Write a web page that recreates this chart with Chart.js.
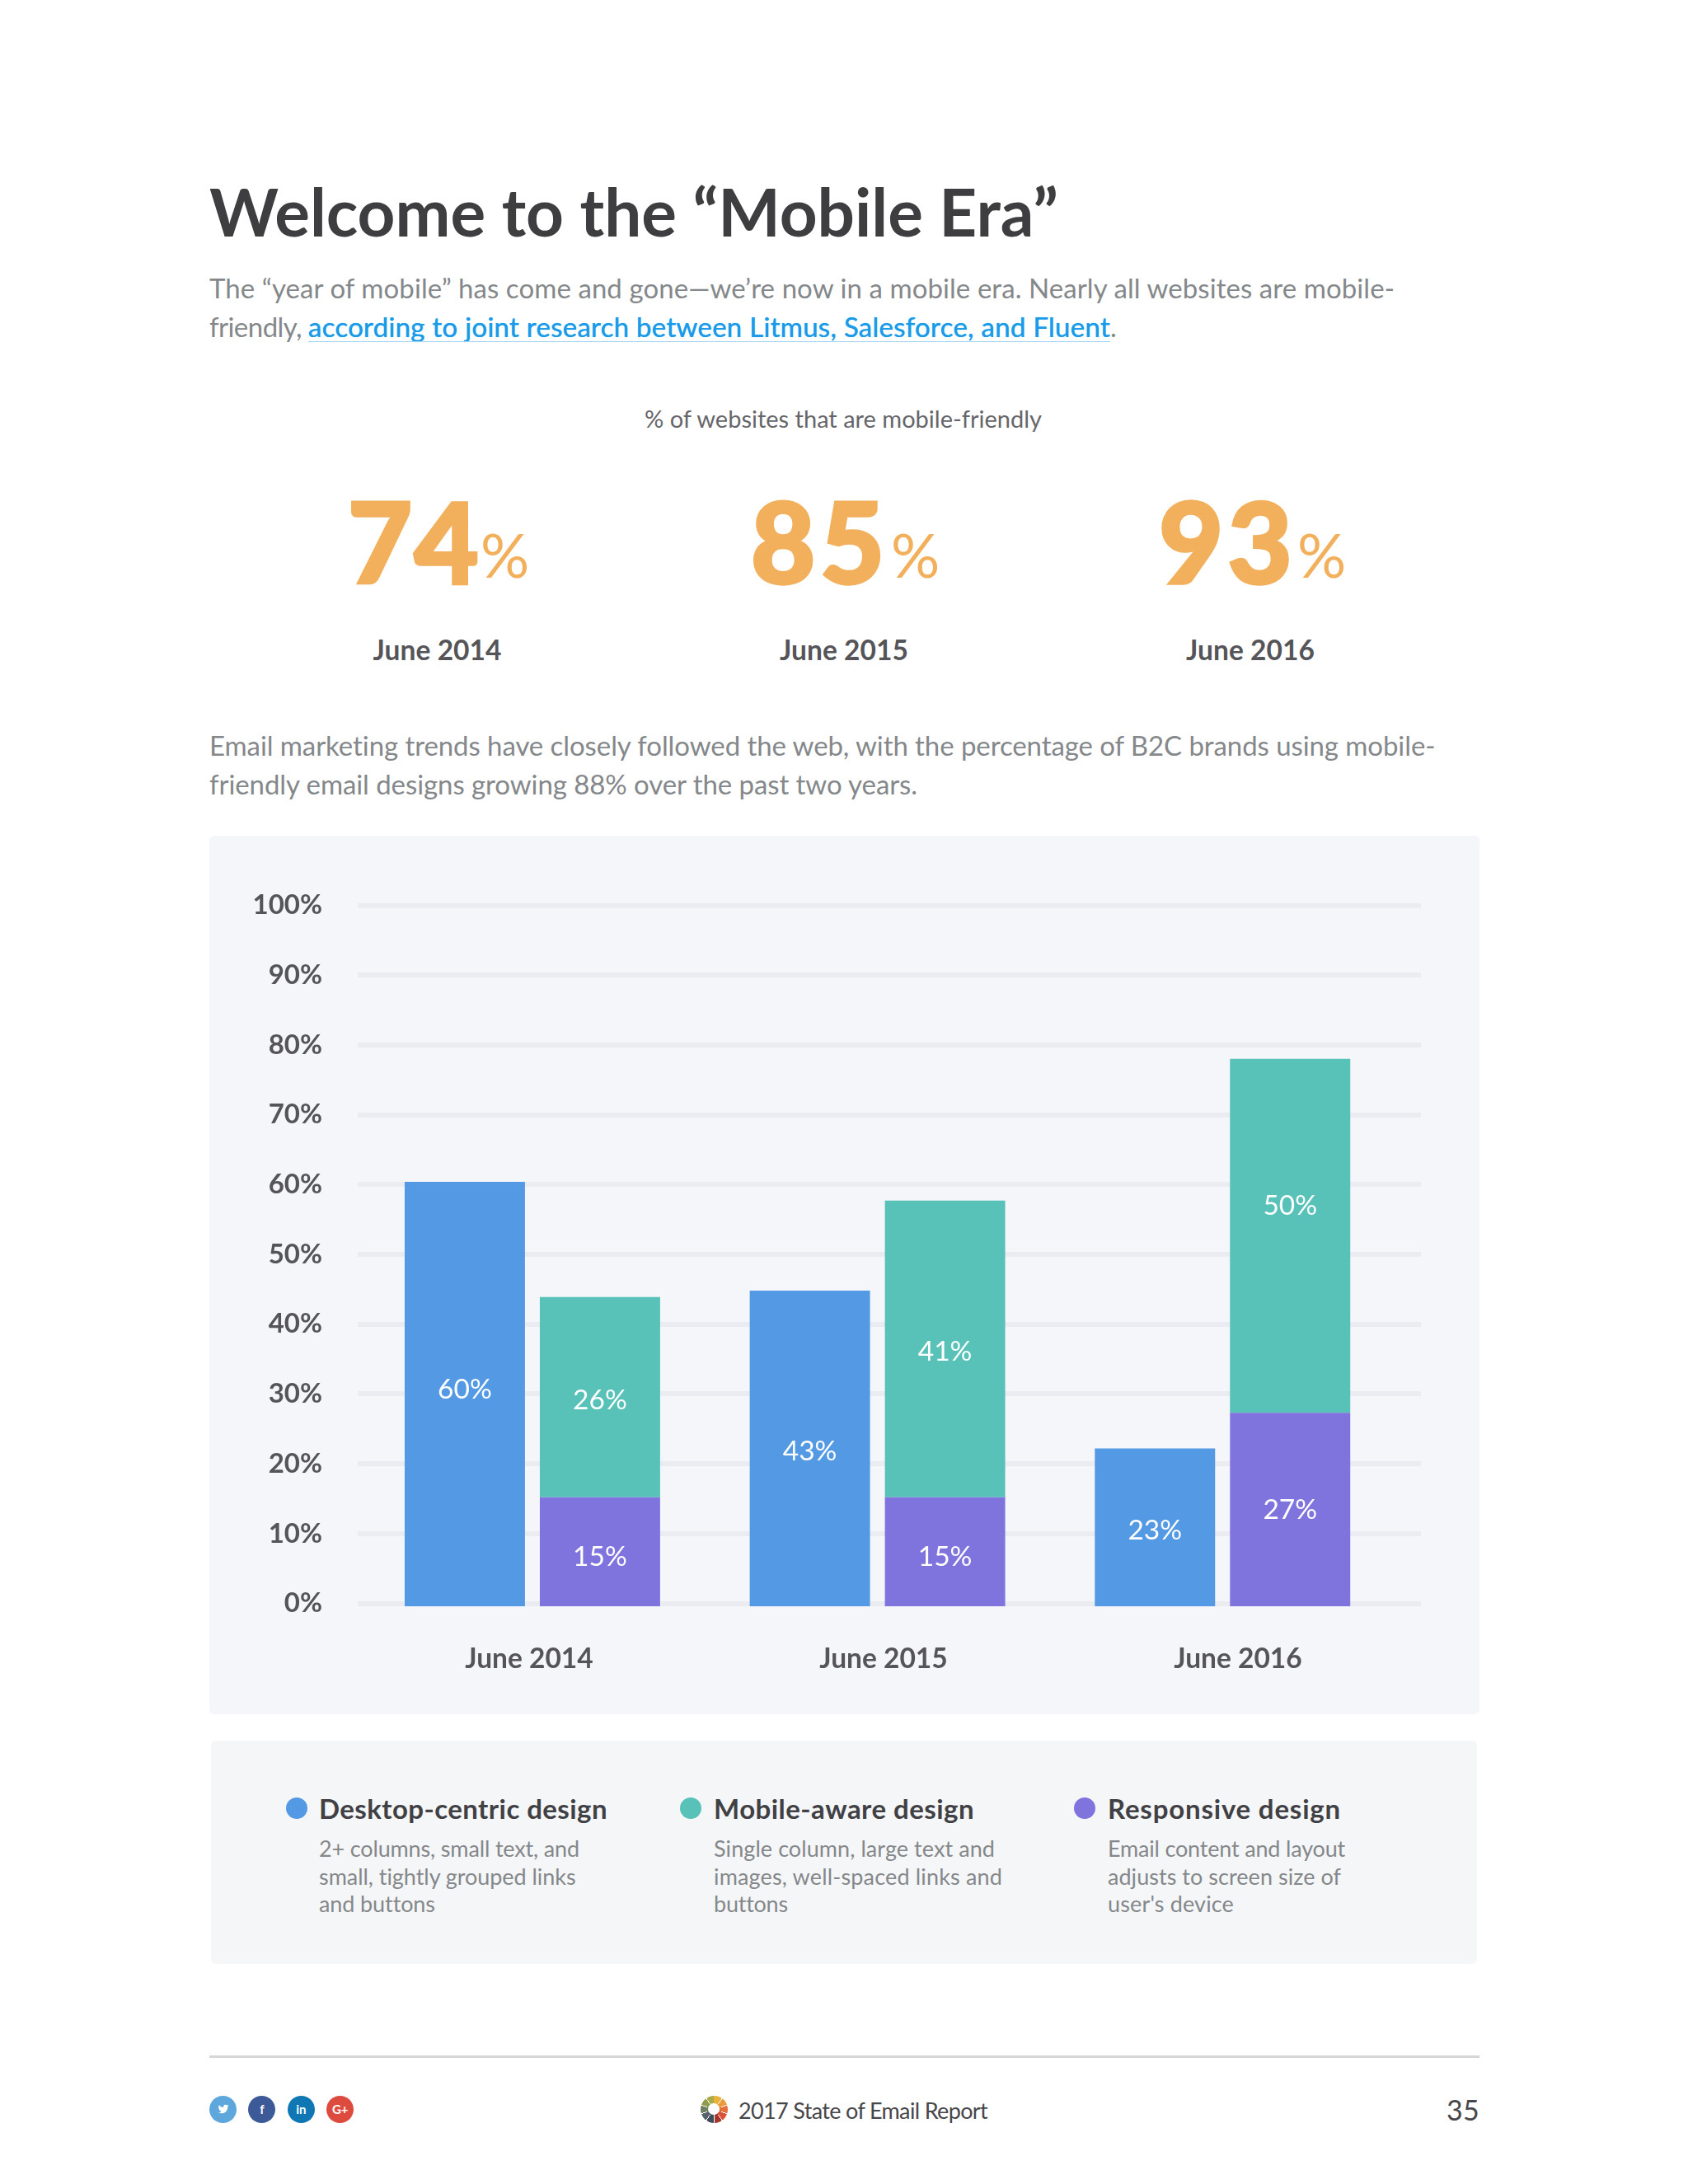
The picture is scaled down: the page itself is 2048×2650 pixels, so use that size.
<!DOCTYPE html>
<html><head><meta charset="utf-8">
<script src="https://cdn.jsdelivr.net/npm/chart.js@4"></script>
<style>
html,body{margin:0;padding:0;background:#fff;width:2048px;height:2650px;overflow:hidden;font-family:Lato,sans-serif}
.t{position:absolute;white-space:nowrap;line-height:1.2;transform:translateY(-50%)}
.box{position:absolute}
canvas{position:absolute;left:254px;top:1014px}
</style></head><body>
<div class="box" style="left:254px;top:1014px;width:1541px;height:1066px;background:#f5f6fa;border-radius:6px"></div>
<div class="box" style="left:256px;top:2112px;width:1536px;height:271px;background:#f5f6f8;border-radius:6px"></div>
<div class="box" style="left:254px;top:2494px;width:1541px;height:3px;background:#d6d6d9"></div>
<canvas id="c" width="1541" height="1066"></canvas>
<div id="page"></div>
<script>
const categories = ['June 2014', 'June 2015', 'June 2016'];
const desktopValues = [60.4, 44.8, 22.2];
const responsiveValues = [15.2, 15.2, 27.3];
const mobileValues = [28.7, 42.5, 50.7];
const desktopLabels = ['60%', '43%', '23%'];
const responsiveLabels = ['15%', '15%', '27%'];
const mobileLabels = ['26%', '41%', '50%'];
const tickLabels = ['0%','10%','20%','30%','40%','50%','60%','70%','80%','90%','100%'];
const seriesNames = ['Desktop-centric design', 'Mobile-aware design', 'Responsive design'];
const seriesColors = ['#5499e4', '#58c1b8', '#7f73dd'];
const mobileFriendly = ['74', '85', '93'];

const INK = '#555559';
const barPlacement = {
  id: 'barPlacement',
  afterLayout(chart) {
    const s = chart.scales.x;
    s.left = 182.6; s.right = 1438.6; s.configure();
  }
};
const barText = {
  id: 'barText',
  afterDatasetsDraw(chart) {
    const ctx = chart.ctx;
    ctx.save();
    ctx.fillStyle = '#fff';
    ctx.font = '400 33.5px Lato';
    ctx.textAlign = 'center';
    ctx.textBaseline = 'middle';
    chart.data.datasets.forEach((ds, di) => {
      chart.getDatasetMeta(di).data.forEach((bar, i) => {
        const nudge = ds.textNudge ? ds.textNudge[i] : 0;
        ctx.fillText(ds.texts[i], bar.x, (bar.y + bar.base) / 2 + nudge);
      });
    });
    ctx.restore();
  }
};
new Chart(document.getElementById('c'), {
  type: 'bar',
  data: {
    labels: categories,
    datasets: [
      {label: seriesNames[0], data: desktopValues, texts: desktopLabels, textNudge: [-5,3.5,3.5], stack: 'a', base: -0.4, backgroundColor: seriesColors[0], clip: false},
      {label: seriesNames[2], data: responsiveValues, texts: responsiveLabels, textNudge: [6,6,1], stack: 'b', base: -0.4, backgroundColor: seriesColors[2], clip: false},
      {label: seriesNames[1], data: mobileValues, texts: mobileLabels, textNudge: [3.5,3.5,-36.5], stack: 'b', backgroundColor: seriesColors[1], clip: false}
    ]
  },
  options: {
    responsive: false, animation: false,
    devicePixelRatio: 1,
    datasets: {bar: {categoryPercentage: 0.7833, barPercentage: 0.89}},
    layout: {padding: {top: 84.5, right: 71, left: 0, bottom: 0}},
    plugins: {legend: {display: false}, title: {display: false}, tooltip: {enabled: false}},
    scales: {
      x: {display: false, stacked: true, offset: true},
      x2: {
        axis: 'x', type: 'category', position: 'bottom', offset: true,
        grid: {display: false, drawTicks: false}, border: {display: false},
        ticks: {padding: 48, labelOffset: -7, maxRotation: 0, color: INK, font: {family: 'Lato', weight: '700', size: 33.5}},
        afterFit(s) { s.height = 134.4; s.paddingLeft = 0; s.paddingRight = 0; }
      },
      y: {
        stacked: true, min: 0, max: 100,
        grid: {color: '#ebecf1', lineWidth: 6, drawTicks: false},
        border: {display: false},
        ticks: {stepSize: 10, padding: 43, color: INK, font: {family: 'Lato', weight: '700', size: 33},
                callback: (v, i) => tickLabels[i]},
        afterFit(s) { s.width = 180; s.paddingTop = 0; s.paddingBottom = 0; }
      }
    }
  },
  plugins: [barPlacement, barText]
});

const page = document.getElementById('page');
function put(text, x, y, size, weight, color, align, width) {
  const e = document.createElement('div');
  e.className = 't';
  e.textContent = text;
  e.style.cssText = `font-size:${size}px;font-weight:${weight};color:${color};top:${y}px;left:0`;
  page.appendChild(e);
  if (width) {
    const w = e.getBoundingClientRect().width;
    e.style.letterSpacing = ((width - w) / text.length) + 'px';
  }
  const w2 = e.getBoundingClientRect().width;
  e.style.left = (align === 'c' ? x - w2 / 2 : align === 'r' ? x - w2 : x) + 'px';
  return e;
}
const GREY = '#85888b';
put('Welcome to the “Mobile Era”', 254, 256, 80, 700, '#3e3e40', 'l', 1030);
put('The “year of mobile” has come and gone—we’re now in a mobile era. Nearly all websites are mobile-', 254, 350, 33, 400, GREY, 'l', 1438);
put('friendly,', 254, 397, 33, 400, GREY, 'l', 112);
put('according to joint research between Litmus, Salesforce, and Fluent', 374, 397, 33, 400, '#1a9ae8', 'l', 973).style.textShadow = '0 0 .8px #1a9ae8';
put('.', 1347, 397, 33, 400, GREY, 'l');
const ul = document.createElement('div');
ul.className = 'box';
ul.style.cssText = 'left:374px;top:414px;width:973px;height:1px;background:#a5d5f3';
page.appendChild(ul);
put('% of websites that are mobile-friendly', 1023, 508, 29, 400, '#66666a', 'c', 482);

[[422,161,583,56],[911,168,1081,55],[1406,167,1574,55]].forEach((p, i) => {
  put(mobileFriendly[i], p[0], 656, 135, 900, '#f2b05c', 'l', p[1]).style.webkitTextStroke = '3.5px #f2b05c';
  put('%', p[2], 673, 74, 400, '#f2b05c', 'l', p[3]);
  put(categories[i], [530.6,1024,1517][i], 787.5, 33.5, 700, INK, 'c', 156);
});
put('Email marketing trends have closely followed the web, with the percentage of B2C brands using mobile-', 254, 905, 33, 400, GREY, 'l', 1488);
put('friendly email designs growing 88% over the past two years.', 254, 952, 33, 400, GREY, 'l', 859);

const legendText = [
  ['2+ columns, small text, and', 'small, tightly grouped links', 'and buttons'],
  ['Single column, large text and', 'images, well-spaced links and', 'buttons'],
  ['Email content and layout', 'adjusts to screen size of', "user's device"]
];
const titleW = [350, 316, 283];
const lineW = [[316,312,140],[341,350,89],[288,283,153]];
const dotX = [347, 824.5, 1302.5];
[387, 866, 1344].forEach((x, i) => {
  const d = document.createElement('div');
  d.className = 'box';
  d.style.cssText = `left:${dotX[i]}px;top:2181px;width:26px;height:26px;border-radius:50%;background:${seriesColors[i]}`;
  page.appendChild(d);
  put(seriesNames[i], x, 2195, 33, 700, '#414145', 'l', titleW[i]);
  legendText[i].forEach((s, j) => put(s, x, 2243 + j * 33.6, 27, 400, GREY, 'l', lineW[i][j]));
});

const bird = '<svg viewBox="0 0 24 24" width="14" height="14"><path fill="#fff" d="M23 3a10.9 10.9 0 0 1-3 1.4 4.48 4.48 0 0 0-7.86 3v1A10.66 10.66 0 0 1 3 4s-4 9 5 13a11.64 11.64 0 0 1-7 2c9 5 20 0 20-11.5a4.5 4.5 0 0 0-.08-.83A7.72 7.72 0 0 0 23 3z"/></svg>';
[['#5ea7dc',bird],['#3d5a98','f'],['#0f78b4','in'],['#dd4b3e','G+']].forEach((s, i) => {
  const d = document.createElement('div');
  d.className = 'box';
  d.style.cssText = `left:${254+i*47.4}px;top:2542.5px;width:33px;height:33px;border-radius:50%;background:${s[0]};color:#fff;font:700 15px Lato;display:flex;align-items:center;justify-content:center`;
  d.innerHTML = s[1];
  page.appendChild(d);
});
const wheelColors = ['#e8b23c','#eb9c38','#e4703a','#d9533a','#a8352c','#3f4c5c','#56636c','#6f7f62','#8f9c4e','#a9aa48'];
const wheel = document.createElement('div');
wheel.className = 'box';
const stops = wheelColors.map((c, i) => `${c} ${i*36+2}deg ${i*36+34}deg,#fff ${i*36+34}deg ${i*36+38}deg`).join(',');
wheel.style.cssText = `left:849.5px;top:2542.5px;width:33px;height:33px;border-radius:50%;background:conic-gradient(${stops})`;
wheel.innerHTML = '<div style="position:absolute;left:9.5px;top:9.5px;width:14px;height:14px;border-radius:50%;background:#fff"></div>';
page.appendChild(wheel);
put('2017 State of Email Report', 896, 2561, 27, 400, '#47474b', 'l', 302);
put('35', 1795, 2560, 34, 400, '#47474b', 'r', 40);
</script>
</body></html>
